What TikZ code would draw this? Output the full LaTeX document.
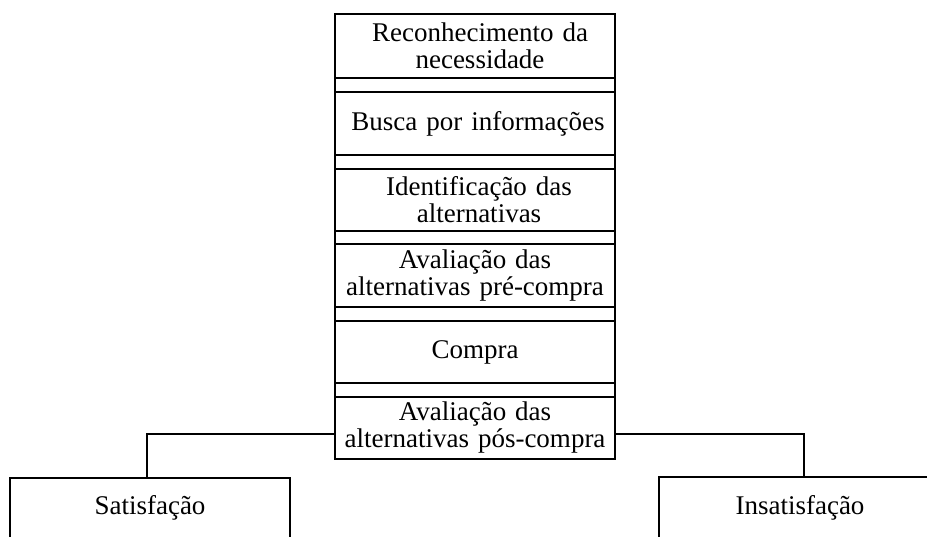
\documentclass[tikz,border=0pt]{standalone}
\usepackage{fontspec}
\setmainfont{Liberation Serif}
\begin{document}
\begin{tikzpicture}[x=1pt,y=-1pt,
  box/.style={draw=black,line width=1.5pt,rectangle,inner sep=0pt,outer sep=0pt,
    minimum width=280pt,text width=276pt,align=center,
    font=\fontsize{27}{27}\selectfont},
  outbox/.style={draw=black,line width=1.5pt,rectangle,inner sep=0pt,outer sep=0pt,
    font=\fontsize{27}{27}\selectfont},
  gap/.style={draw=black,line width=1.5pt},
  conn/.style={draw=black,line width=1.5pt}]
\useasboundingbox (0,0) rectangle (927,536);
\clip (0,0) rectangle (927,536);
\fill[white] (0,0) rectangle (927,536);
% main column
\node[box,minimum height=64pt] (b1) at (475,46) {\hspace*{10pt}Reconhecimento da\\\hspace*{10pt}necessidade};
\node[box,minimum height=63pt] (b2) at (475,123.5) {\hspace*{6pt}Busca por informações};
\node[box,minimum height=62pt] (b3) at (475,200) {\hspace*{8pt}Identificação das\\\hspace*{8pt}alternativas};
\node[box,minimum height=63pt] (b4) at (475,275.5) {Avaliação das\\alternativas pré-compra};
\node[box,minimum height=62pt] (b5) at (475,352) {Compra};
\node[box,minimum height=62pt] (b6) at (475,428) {Avaliação das\\alternativas pós-compra};
\draw[gap] (b1.south west) rectangle (b2.north east);
\draw[gap] (b2.south west) rectangle (b3.north east);
\draw[gap] (b3.south west) rectangle (b4.north east);
\draw[gap] (b4.south west) rectangle (b5.north east);
\draw[gap] (b5.south west) rectangle (b6.north east);
% outcome boxes
\node[outbox,minimum width=280pt,minimum height=60pt] (sat) at (150,508) {Satisfação};
\node[outbox,minimum width=282pt,minimum height=62pt] (ins) at (800,508) {Insatisfação};
% connectors
\draw[conn] ([yshift=-6pt]b6.west) -| ([xshift=-3pt]sat.north);
\draw[conn] ([yshift=-6pt]b6.east) -| ([xshift=4pt]ins.north);
\end{tikzpicture}
\end{document}
